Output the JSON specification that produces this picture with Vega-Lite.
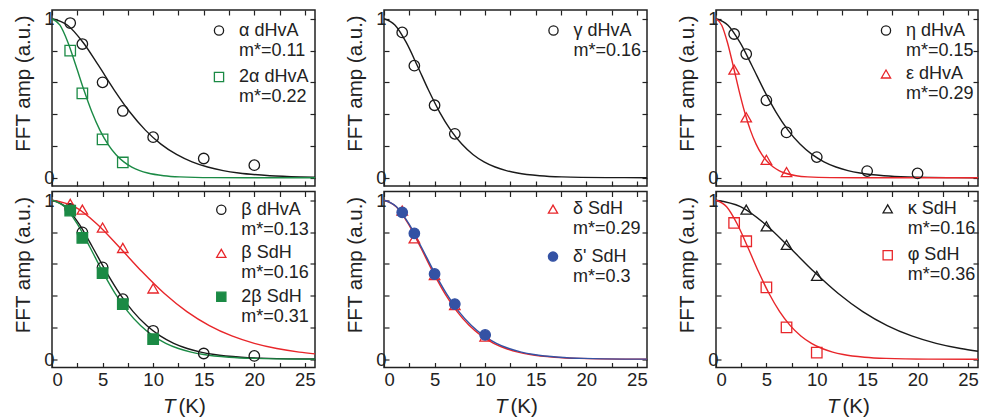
{
  "$schema": "https://vega.github.io/schema/vega-lite/v6.json",
  "padding": {"left": 12, "top": 8, "right": 0, "bottom": 0},
  "background": "white",
  "config": {
    "font": "Liberation Sans",
    "view": {"stroke": "#222", "strokeWidth": 1.5},
    "line": {"interpolate": "monotone", "strokeWidth": 1.4},
    "axis": {"domain": false, "grid": false, "tickSize": -5, "tickWidth": 1.2, "tickColor": "#222", "labelFont": "Liberation Sans", "labelFontSize": 18.5, "labelColor": "#222", "labelPadding": 3, "titleFont": "Liberation Sans", "titleFontSize": 20.5, "titleFontWeight": "normal", "titleColor": "#222"},
    "legend": {"labelFont": "Liberation Sans", "labelFontSize": 18, "labelColor": "#222", "labelLimit": 400, "symbolSize": 85, "symbolStrokeWidth": 1.3, "rowPadding": 5.5, "labelOffset": 11, "padding": 0}
  },
  "datasets": {
    "points": [
      {"p":"A","s":"α dHvA","T":1.8,"amp":0.973},{"p":"A","s":"α dHvA","T":3,"amp":0.841},{"p":"A","s":"α dHvA","T":5,"amp":0.6},{"p":"A","s":"α dHvA","T":7,"amp":0.42},{"p":"A","s":"α dHvA","T":10,"amp":0.255},{"p":"A","s":"α dHvA","T":15,"amp":0.121},{"p":"A","s":"α dHvA","T":20,"amp":0.079},
      {"p":"A","s":"2α dHvA","T":1.8,"amp":0.8},{"p":"A","s":"2α dHvA","T":3,"amp":0.531},{"p":"A","s":"2α dHvA","T":5,"amp":0.241},{"p":"A","s":"2α dHvA","T":7,"amp":0.096},
      {"p":"B","s":"β dHvA","T":1.8,"amp":0.945},{"p":"B","s":"β dHvA","T":3,"amp":0.798},{"p":"B","s":"β dHvA","T":5,"amp":0.578},{"p":"B","s":"β dHvA","T":7,"amp":0.378},{"p":"B","s":"β dHvA","T":10,"amp":0.179},{"p":"B","s":"β dHvA","T":15,"amp":0.036},{"p":"B","s":"β dHvA","T":20,"amp":0.021},
      {"p":"B","s":"β SdH","T":1.8,"amp":0.977},{"p":"B","s":"β SdH","T":3,"amp":0.941},{"p":"B","s":"β SdH","T":5,"amp":0.828},{"p":"B","s":"β SdH","T":7,"amp":0.7},{"p":"B","s":"β SdH","T":10,"amp":0.445},
      {"p":"B","s":"2β SdH","T":1.8,"amp":0.935},{"p":"B","s":"2β SdH","T":3,"amp":0.763},{"p":"B","s":"2β SdH","T":5,"amp":0.542},{"p":"B","s":"2β SdH","T":7,"amp":0.347},{"p":"B","s":"2β SdH","T":10,"amp":0.126},
      {"p":"C","s":"γ dHvA","T":1.8,"amp":0.914},{"p":"C","s":"γ dHvA","T":3,"amp":0.705},{"p":"C","s":"γ dHvA","T":5,"amp":0.456},{"p":"C","s":"γ dHvA","T":7,"amp":0.276},
      {"p":"D","s":"δ SdH","T":1.8,"amp":0.935},{"p":"D","s":"δ SdH","T":3,"amp":0.76},{"p":"D","s":"δ SdH","T":5,"amp":0.53},{"p":"D","s":"δ SdH","T":7,"amp":0.34},{"p":"D","s":"δ SdH","T":10,"amp":0.143},
      {"p":"D","s":"δ' SdH","T":1.8,"amp":0.924},{"p":"D","s":"δ' SdH","T":3,"amp":0.792},{"p":"D","s":"δ' SdH","T":5,"amp":0.536},{"p":"D","s":"δ' SdH","T":7,"amp":0.347},{"p":"D","s":"δ' SdH","T":10,"amp":0.153},
      {"p":"E","s":"η dHvA","T":1.8,"amp":0.904},{"p":"E","s":"η dHvA","T":3,"amp":0.778},{"p":"E","s":"η dHvA","T":5,"amp":0.487},{"p":"E","s":"η dHvA","T":7,"amp":0.285},{"p":"E","s":"η dHvA","T":10,"amp":0.13},{"p":"E","s":"η dHvA","T":15,"amp":0.042},{"p":"E","s":"η dHvA","T":20,"amp":0.027},
      {"p":"E","s":"ε dHvA","T":1.8,"amp":0.68},{"p":"E","s":"ε dHvA","T":3,"amp":0.38},{"p":"E","s":"ε dHvA","T":5,"amp":0.113},{"p":"E","s":"ε dHvA","T":7,"amp":0.036},
      {"p":"F","s":"κ SdH","T":3,"amp":0.941},{"p":"F","s":"κ SdH","T":5,"amp":0.836},{"p":"F","s":"κ SdH","T":7,"amp":0.72},{"p":"F","s":"κ SdH","T":10,"amp":0.525},
      {"p":"F","s":"φ SdH","T":1.8,"amp":0.857},{"p":"F","s":"φ SdH","T":3,"amp":0.742},{"p":"F","s":"φ SdH","T":5,"amp":0.452},{"p":"F","s":"φ SdH","T":7,"amp":0.2},{"p":"F","s":"φ SdH","T":10,"amp":0.042}
    ],
    "curves": [
      {"p":"A","s":"α dHvA","T":0,"amp":1},{"p":"A","s":"α dHvA","T":1.538,"amp":0.9595},{"p":"A","s":"α dHvA","T":3.077,"amp":0.8509},{"p":"A","s":"α dHvA","T":4.615,"amp":0.7045},{"p":"A","s":"α dHvA","T":6.154,"amp":0.5514},{"p":"A","s":"α dHvA","T":7.692,"amp":0.4132},{"p":"A","s":"α dHvA","T":9.231,"amp":0.2995},{"p":"A","s":"α dHvA","T":10.769,"amp":0.2116},{"p":"A","s":"α dHvA","T":12.308,"amp":0.1466},{"p":"A","s":"α dHvA","T":13.846,"amp":0.1},{"p":"A","s":"α dHvA","T":15.385,"amp":0.0674},{"p":"A","s":"α dHvA","T":16.923,"amp":0.045},{"p":"A","s":"α dHvA","T":18.462,"amp":0.0297},{"p":"A","s":"α dHvA","T":21.538,"amp":0.0128},{"p":"A","s":"α dHvA","T":24.615,"amp":0.0054},{"p":"A","s":"α dHvA","T":26,"amp":0.0036},
      {"p":"A","s":"2α dHvA","T":0,"amp":1},{"p":"A","s":"2α dHvA","T":0.789,"amp":0.9595},{"p":"A","s":"2α dHvA","T":1.577,"amp":0.8509},{"p":"A","s":"2α dHvA","T":2.366,"amp":0.7045},{"p":"A","s":"2α dHvA","T":3.155,"amp":0.5514},{"p":"A","s":"2α dHvA","T":3.943,"amp":0.4132},{"p":"A","s":"2α dHvA","T":4.732,"amp":0.2995},{"p":"A","s":"2α dHvA","T":5.521,"amp":0.2116},{"p":"A","s":"2α dHvA","T":6.309,"amp":0.1466},{"p":"A","s":"2α dHvA","T":7.098,"amp":0.1},{"p":"A","s":"2α dHvA","T":7.886,"amp":0.0674},{"p":"A","s":"2α dHvA","T":8.675,"amp":0.045},{"p":"A","s":"2α dHvA","T":9.464,"amp":0.0297},{"p":"A","s":"2α dHvA","T":11.041,"amp":0.0128},{"p":"A","s":"2α dHvA","T":12.618,"amp":0.0054},{"p":"A","s":"2α dHvA","T":15.773,"amp":0.0009},{"p":"A","s":"2α dHvA","T":22.082,"amp":0},{"p":"A","s":"2α dHvA","T":26,"amp":0},
      {"p":"B","s":"β dHvA","T":0,"amp":1},{"p":"B","s":"β dHvA","T":1.337,"amp":0.9595},{"p":"B","s":"β dHvA","T":2.674,"amp":0.8509},{"p":"B","s":"β dHvA","T":4.011,"amp":0.7045},{"p":"B","s":"β dHvA","T":5.348,"amp":0.5514},{"p":"B","s":"β dHvA","T":6.684,"amp":0.4132},{"p":"B","s":"β dHvA","T":8.021,"amp":0.2995},{"p":"B","s":"β dHvA","T":9.358,"amp":0.2116},{"p":"B","s":"β dHvA","T":10.695,"amp":0.1466},{"p":"B","s":"β dHvA","T":12.032,"amp":0.1},{"p":"B","s":"β dHvA","T":13.369,"amp":0.0674},{"p":"B","s":"β dHvA","T":14.706,"amp":0.045},{"p":"B","s":"β dHvA","T":16.043,"amp":0.0297},{"p":"B","s":"β dHvA","T":18.717,"amp":0.0128},{"p":"B","s":"β dHvA","T":21.39,"amp":0.0054},{"p":"B","s":"β dHvA","T":26,"amp":0.0012},
      {"p":"B","s":"β SdH","T":0,"amp":1},{"p":"B","s":"β SdH","T":2.222,"amp":0.9595},{"p":"B","s":"β SdH","T":4.444,"amp":0.8509},{"p":"B","s":"β SdH","T":6.667,"amp":0.7045},{"p":"B","s":"β SdH","T":8.889,"amp":0.5514},{"p":"B","s":"β SdH","T":11.111,"amp":0.4132},{"p":"B","s":"β SdH","T":13.333,"amp":0.2995},{"p":"B","s":"β SdH","T":15.556,"amp":0.2116},{"p":"B","s":"β SdH","T":17.778,"amp":0.1466},{"p":"B","s":"β SdH","T":20,"amp":0.1},{"p":"B","s":"β SdH","T":22.222,"amp":0.0674},{"p":"B","s":"β SdH","T":24.444,"amp":0.045},{"p":"B","s":"β SdH","T":26,"amp":0.0337},
      {"p":"B","s":"2β SdH","T":0,"amp":1},{"p":"B","s":"2β SdH","T":1.25,"amp":0.9595},{"p":"B","s":"2β SdH","T":2.5,"amp":0.8509},{"p":"B","s":"2β SdH","T":3.75,"amp":0.7045},{"p":"B","s":"2β SdH","T":5,"amp":0.5514},{"p":"B","s":"2β SdH","T":6.25,"amp":0.4132},{"p":"B","s":"2β SdH","T":7.5,"amp":0.2995},{"p":"B","s":"2β SdH","T":8.75,"amp":0.2116},{"p":"B","s":"2β SdH","T":10,"amp":0.1466},{"p":"B","s":"2β SdH","T":11.25,"amp":0.1},{"p":"B","s":"2β SdH","T":12.5,"amp":0.0674},{"p":"B","s":"2β SdH","T":13.75,"amp":0.045},{"p":"B","s":"2β SdH","T":15,"amp":0.0297},{"p":"B","s":"2β SdH","T":17.5,"amp":0.0128},{"p":"B","s":"2β SdH","T":20,"amp":0.0054},{"p":"B","s":"2β SdH","T":25,"amp":0.0009},{"p":"B","s":"2β SdH","T":26,"amp":0.0006},
      {"p":"C","s":"γ dHvA","T":0,"amp":1},{"p":"C","s":"γ dHvA","T":1.099,"amp":0.9595},{"p":"C","s":"γ dHvA","T":2.198,"amp":0.8509},{"p":"C","s":"γ dHvA","T":3.297,"amp":0.7045},{"p":"C","s":"γ dHvA","T":4.396,"amp":0.5514},{"p":"C","s":"γ dHvA","T":5.495,"amp":0.4132},{"p":"C","s":"γ dHvA","T":6.593,"amp":0.2995},{"p":"C","s":"γ dHvA","T":7.692,"amp":0.2116},{"p":"C","s":"γ dHvA","T":8.791,"amp":0.1466},{"p":"C","s":"γ dHvA","T":9.89,"amp":0.1},{"p":"C","s":"γ dHvA","T":10.989,"amp":0.0674},{"p":"C","s":"γ dHvA","T":12.088,"amp":0.045},{"p":"C","s":"γ dHvA","T":13.187,"amp":0.0297},{"p":"C","s":"γ dHvA","T":15.385,"amp":0.0128},{"p":"C","s":"γ dHvA","T":17.582,"amp":0.0054},{"p":"C","s":"γ dHvA","T":21.978,"amp":0.0009},{"p":"C","s":"γ dHvA","T":26,"amp":0.0001},
      {"p":"D","s":"δ SdH","T":0,"amp":1},{"p":"D","s":"δ SdH","T":1.205,"amp":0.9595},{"p":"D","s":"δ SdH","T":2.41,"amp":0.8509},{"p":"D","s":"δ SdH","T":3.614,"amp":0.7045},{"p":"D","s":"δ SdH","T":4.819,"amp":0.5514},{"p":"D","s":"δ SdH","T":6.024,"amp":0.4132},{"p":"D","s":"δ SdH","T":7.229,"amp":0.2995},{"p":"D","s":"δ SdH","T":8.434,"amp":0.2116},{"p":"D","s":"δ SdH","T":9.639,"amp":0.1466},{"p":"D","s":"δ SdH","T":10.843,"amp":0.1},{"p":"D","s":"δ SdH","T":12.048,"amp":0.0674},{"p":"D","s":"δ SdH","T":13.253,"amp":0.045},{"p":"D","s":"δ SdH","T":14.458,"amp":0.0297},{"p":"D","s":"δ SdH","T":16.867,"amp":0.0128},{"p":"D","s":"δ SdH","T":19.277,"amp":0.0054},{"p":"D","s":"δ SdH","T":24.096,"amp":0.0009},{"p":"D","s":"δ SdH","T":26,"amp":0.0004},
      {"p":"D","s":"δ' SdH","T":0,"amp":1},{"p":"D","s":"δ' SdH","T":1.235,"amp":0.9595},{"p":"D","s":"δ' SdH","T":2.469,"amp":0.8509},{"p":"D","s":"δ' SdH","T":3.704,"amp":0.7045},{"p":"D","s":"δ' SdH","T":4.938,"amp":0.5514},{"p":"D","s":"δ' SdH","T":6.173,"amp":0.4132},{"p":"D","s":"δ' SdH","T":7.407,"amp":0.2995},{"p":"D","s":"δ' SdH","T":8.642,"amp":0.2116},{"p":"D","s":"δ' SdH","T":9.877,"amp":0.1466},{"p":"D","s":"δ' SdH","T":11.111,"amp":0.1},{"p":"D","s":"δ' SdH","T":12.346,"amp":0.0674},{"p":"D","s":"δ' SdH","T":13.58,"amp":0.045},{"p":"D","s":"δ' SdH","T":14.815,"amp":0.0297},{"p":"D","s":"δ' SdH","T":17.284,"amp":0.0128},{"p":"D","s":"δ' SdH","T":19.753,"amp":0.0054},{"p":"D","s":"δ' SdH","T":24.691,"amp":0.0009},{"p":"D","s":"δ' SdH","T":26,"amp":0.0005},
      {"p":"E","s":"η dHvA","T":0,"amp":1},{"p":"E","s":"η dHvA","T":1.19,"amp":0.9595},{"p":"E","s":"η dHvA","T":2.381,"amp":0.8509},{"p":"E","s":"η dHvA","T":3.571,"amp":0.7045},{"p":"E","s":"η dHvA","T":4.762,"amp":0.5514},{"p":"E","s":"η dHvA","T":5.952,"amp":0.4132},{"p":"E","s":"η dHvA","T":7.143,"amp":0.2995},{"p":"E","s":"η dHvA","T":8.333,"amp":0.2116},{"p":"E","s":"η dHvA","T":9.524,"amp":0.1466},{"p":"E","s":"η dHvA","T":10.714,"amp":0.1},{"p":"E","s":"η dHvA","T":11.905,"amp":0.0674},{"p":"E","s":"η dHvA","T":13.095,"amp":0.045},{"p":"E","s":"η dHvA","T":14.286,"amp":0.0297},{"p":"E","s":"η dHvA","T":16.667,"amp":0.0128},{"p":"E","s":"η dHvA","T":19.048,"amp":0.0054},{"p":"E","s":"η dHvA","T":23.81,"amp":0.0009},{"p":"E","s":"η dHvA","T":26,"amp":0.0003},
      {"p":"E","s":"ε dHvA","T":0,"amp":1},{"p":"E","s":"ε dHvA","T":0.568,"amp":0.9595},{"p":"E","s":"ε dHvA","T":1.136,"amp":0.8509},{"p":"E","s":"ε dHvA","T":1.705,"amp":0.7045},{"p":"E","s":"ε dHvA","T":2.273,"amp":0.5514},{"p":"E","s":"ε dHvA","T":2.841,"amp":0.4132},{"p":"E","s":"ε dHvA","T":3.409,"amp":0.2995},{"p":"E","s":"ε dHvA","T":3.977,"amp":0.2116},{"p":"E","s":"ε dHvA","T":4.545,"amp":0.1466},{"p":"E","s":"ε dHvA","T":5.114,"amp":0.1},{"p":"E","s":"ε dHvA","T":5.682,"amp":0.0674},{"p":"E","s":"ε dHvA","T":6.25,"amp":0.045},{"p":"E","s":"ε dHvA","T":6.818,"amp":0.0297},{"p":"E","s":"ε dHvA","T":7.955,"amp":0.0128},{"p":"E","s":"ε dHvA","T":9.091,"amp":0.0054},{"p":"E","s":"ε dHvA","T":11.364,"amp":0.0009},{"p":"E","s":"ε dHvA","T":15.909,"amp":0},{"p":"E","s":"ε dHvA","T":26,"amp":0},
      {"p":"F","s":"κ SdH","T":0,"amp":1},{"p":"F","s":"κ SdH","T":2.427,"amp":0.9595},{"p":"F","s":"κ SdH","T":4.854,"amp":0.8509},{"p":"F","s":"κ SdH","T":7.282,"amp":0.7045},{"p":"F","s":"κ SdH","T":9.709,"amp":0.5514},{"p":"F","s":"κ SdH","T":12.136,"amp":0.4132},{"p":"F","s":"κ SdH","T":14.563,"amp":0.2995},{"p":"F","s":"κ SdH","T":16.99,"amp":0.2116},{"p":"F","s":"κ SdH","T":19.417,"amp":0.1466},{"p":"F","s":"κ SdH","T":21.845,"amp":0.1},{"p":"F","s":"κ SdH","T":24.272,"amp":0.0674},{"p":"F","s":"κ SdH","T":26,"amp":0.0506},
      {"p":"F","s":"φ SdH","T":0,"amp":1},{"p":"F","s":"φ SdH","T":1.053,"amp":0.9595},{"p":"F","s":"φ SdH","T":2.105,"amp":0.8509},{"p":"F","s":"φ SdH","T":3.158,"amp":0.7045},{"p":"F","s":"φ SdH","T":4.211,"amp":0.5514},{"p":"F","s":"φ SdH","T":5.263,"amp":0.4132},{"p":"F","s":"φ SdH","T":6.316,"amp":0.2995},{"p":"F","s":"φ SdH","T":7.368,"amp":0.2116},{"p":"F","s":"φ SdH","T":8.421,"amp":0.1466},{"p":"F","s":"φ SdH","T":9.474,"amp":0.1},{"p":"F","s":"φ SdH","T":10.526,"amp":0.0674},{"p":"F","s":"φ SdH","T":11.579,"amp":0.045},{"p":"F","s":"φ SdH","T":12.632,"amp":0.0297},{"p":"F","s":"φ SdH","T":14.737,"amp":0.0128},{"p":"F","s":"φ SdH","T":16.842,"amp":0.0054},{"p":"F","s":"φ SdH","T":21.053,"amp":0.0009},{"p":"F","s":"φ SdH","T":26,"amp":0.0001}
    ]
  },
  "columns": 3,
  "bounds": "flush",
  "spacing": {"row": 5.5, "column": 69},
  "resolve": {"scale": {"stroke": "independent", "fill": "independent", "shape": "independent"}},
  "concat": [
    {
      "width": 263, "height": 176,
      "layer": [
        {"data": {"name": "curves"}, "transform": [{"filter": "datum.p == 'A' && datum.s == 'α dHvA'"}],
         "mark": {"type": "line", "color": "#1a1a1a"},
         "encoding": {
           "x": {"field": "T", "type": "quantitative", "scale": {"domain": [0, 26], "nice": false}, "axis": {"orient": "bottom", "values": [0,2.5,5,7.5,10,12.5,15,17.5,20,22.5,25], "labels": false, "title": null}},
           "y": {"field": "amp", "type": "quantitative", "scale": {"domain": [-0.052, 1.055], "nice": false, "zero": false}, "axis": {"orient": "left", "values": [0,0.2,0.4,0.6,0.8,1], "labelExpr": "datum.value === 0 ? '0' : datum.value === 1 ? '1' : ''", "title": "FFT amp (a.u.)", "titleX": -22.7, "titleY": 73, "titleAngle": -90, "titleAlign": "center", "titleBaseline": "alphabetic"}}
         }},
        {"data": {"name": "curves"}, "transform": [{"filter": "datum.p == 'A' && datum.s == '2α dHvA'"}],
         "mark": {"type": "line", "color": "#1b8a45"},
         "encoding": {
           "x": {"field": "T", "type": "quantitative", "axis": null},
           "y": {"field": "amp", "type": "quantitative", "axis": null}
         }},
        {"data": {"name": "points"}, "transform": [{"filter": "datum.p == 'A'"}],
         "mark": {"type": "point", "size": 110, "strokeWidth": 1.3, "opacity": 1},
         "encoding": {
           "x": {"field": "T", "type": "quantitative", "axis": {"orient": "top", "values": [0,2.5,5,7.5,10,12.5,15,17.5,20,22.5,25], "labels": false, "title": null}},
           "y": {"field": "amp", "type": "quantitative", "axis": {"orient": "right", "values": [0,0.2,0.4,0.6,0.8,1], "labels": false, "title": null}},
           "stroke": {"field": "s", "type": "nominal", "title": null, "scale": {"domain": ["α dHvA", "2α dHvA"], "range": ["#1a1a1a", "#1b8a45"]}, "legend": {"orient": "none", "legendX": 158, "legendY": 11.5, "rowPadding": 8.5, "labelExpr": "[datum.label, datum.label == 'α dHvA' ? 'm*=0.11' : 'm*=0.22']"}},
           "fill": {"field": "s", "type": "nominal", "title": null, "scale": {"domain": ["α dHvA", "2α dHvA"], "range": ["transparent", "transparent"]}, "legend": {"orient": "none", "legendX": 158, "legendY": 11.5, "rowPadding": 8.5, "labelExpr": "[datum.label, datum.label == 'α dHvA' ? 'm*=0.11' : 'm*=0.22']"}},
           "shape": {"field": "s", "type": "nominal", "title": null, "scale": {"domain": ["α dHvA", "2α dHvA"], "range": ["circle", "square"]}, "legend": {"orient": "none", "legendX": 158, "legendY": 11.5, "rowPadding": 8.5, "labelExpr": "[datum.label, datum.label == 'α dHvA' ? 'm*=0.11' : 'm*=0.22']"}}
         }}
      ],
      "resolve": {"axis": {"x": "independent", "y": "independent"}}
    },
    {
      "width": 263, "height": 176,
      "layer": [
        {"data": {"name": "curves"}, "transform": [{"filter": "datum.p == 'C'"}],
         "mark": {"type": "line", "color": "#1a1a1a"},
         "encoding": {
           "x": {"field": "T", "type": "quantitative", "scale": {"domain": [0, 26], "nice": false}, "axis": {"orient": "bottom", "values": [0,2.5,5,7.5,10,12.5,15,17.5,20,22.5,25], "labels": false, "title": null}},
           "y": {"field": "amp", "type": "quantitative", "scale": {"domain": [-0.052, 1.055], "nice": false, "zero": false}, "axis": {"orient": "left", "values": [0,0.2,0.4,0.6,0.8,1], "labelExpr": "datum.value === 0 ? '0' : datum.value === 1 ? '1' : ''", "title": "FFT amp (a.u.)", "titleX": -22.7, "titleY": 73, "titleAngle": -90, "titleAlign": "center", "titleBaseline": "alphabetic"}}
         }},
        {"data": {"name": "points"}, "transform": [{"filter": "datum.p == 'C'"}],
         "mark": {"type": "point", "size": 110, "strokeWidth": 1.3, "opacity": 1},
         "encoding": {
           "x": {"field": "T", "type": "quantitative", "axis": {"orient": "top", "values": [0,2.5,5,7.5,10,12.5,15,17.5,20,22.5,25], "labels": false, "title": null}},
           "y": {"field": "amp", "type": "quantitative", "axis": {"orient": "right", "values": [0,0.2,0.4,0.6,0.8,1], "labels": false, "title": null}},
           "stroke": {"field": "s", "type": "nominal", "title": null, "scale": {"domain": ["γ dHvA"], "range": ["#1a1a1a"]}, "legend": {"orient": "none", "legendX": 160.5, "legendY": 11.5, "labelExpr": "[datum.label, 'm*=0.16']"}},
           "fill": {"field": "s", "type": "nominal", "title": null, "scale": {"domain": ["γ dHvA"], "range": ["transparent"]}, "legend": {"orient": "none", "legendX": 160.5, "legendY": 11.5, "labelExpr": "[datum.label, 'm*=0.16']"}},
           "shape": {"field": "s", "type": "nominal", "title": null, "scale": {"domain": ["γ dHvA"], "range": ["circle"]}, "legend": {"orient": "none", "legendX": 160.5, "legendY": 11.5, "labelExpr": "[datum.label, 'm*=0.16']"}}
         }}
      ],
      "resolve": {"axis": {"x": "independent", "y": "independent"}}
    },
    {
      "width": 262, "height": 176,
      "layer": [
        {"data": {"name": "curves"}, "transform": [{"filter": "datum.p == 'E' && datum.s == 'η dHvA'"}],
         "mark": {"type": "line", "color": "#1a1a1a"},
         "encoding": {
           "x": {"field": "T", "type": "quantitative", "scale": {"domain": [0, 26], "nice": false}, "axis": {"orient": "bottom", "values": [0,2.5,5,7.5,10,12.5,15,17.5,20,22.5,25], "labels": false, "title": null}},
           "y": {"field": "amp", "type": "quantitative", "scale": {"domain": [-0.052, 1.055], "nice": false, "zero": false}, "axis": {"orient": "left", "values": [0,0.2,0.4,0.6,0.8,1], "labelExpr": "datum.value === 0 ? '0' : datum.value === 1 ? '1' : ''", "title": "FFT amp (a.u.)", "titleX": -22.7, "titleY": 73, "titleAngle": -90, "titleAlign": "center", "titleBaseline": "alphabetic"}}
         }},
        {"data": {"name": "curves"}, "transform": [{"filter": "datum.p == 'E' && datum.s == 'ε dHvA'"}],
         "mark": {"type": "line", "color": "#e8262a"},
         "encoding": {
           "x": {"field": "T", "type": "quantitative", "axis": null},
           "y": {"field": "amp", "type": "quantitative", "axis": null}
         }},
        {"data": {"name": "points"}, "transform": [{"filter": "datum.p == 'E'"}],
         "mark": {"type": "point", "size": 110, "strokeWidth": 1.3, "opacity": 1},
         "encoding": {
           "x": {"field": "T", "type": "quantitative", "axis": {"orient": "top", "values": [0,2.5,5,7.5,10,12.5,15,17.5,20,22.5,25], "labels": false, "title": null}},
           "y": {"field": "amp", "type": "quantitative", "axis": {"orient": "right", "values": [0,0.2,0.4,0.6,0.8,1], "labels": false, "title": null}},
           "stroke": {"field": "s", "type": "nominal", "title": null, "scale": {"domain": ["η dHvA", "ε dHvA"], "range": ["#1a1a1a", "#e8262a"]}, "legend": {"orient": "none", "legendX": 161, "legendY": 11.5, "rowPadding": 5.5, "labelExpr": "[datum.label, datum.label == 'η dHvA' ? 'm*=0.15' : 'm*=0.29']"}},
           "fill": {"field": "s", "type": "nominal", "title": null, "scale": {"domain": ["η dHvA", "ε dHvA"], "range": ["transparent", "transparent"]}, "legend": {"orient": "none", "legendX": 161, "legendY": 11.5, "rowPadding": 5.5, "labelExpr": "[datum.label, datum.label == 'η dHvA' ? 'm*=0.15' : 'm*=0.29']"}},
           "shape": {"field": "s", "type": "nominal", "title": null, "scale": {"domain": ["η dHvA", "ε dHvA"], "range": ["circle", "triangle-up"]}, "legend": {"orient": "none", "legendX": 161, "legendY": 11.5, "rowPadding": 5.5, "labelExpr": "[datum.label, datum.label == 'η dHvA' ? 'm*=0.15' : 'm*=0.29']"}}
         }}
      ],
      "resolve": {"axis": {"x": "independent", "y": "independent"}}
    },
    {
      "width": 263, "height": 176,
      "layer": [
        {"data": {"name": "curves"}, "transform": [{"filter": "datum.p == 'B' && datum.s == 'β dHvA'"}],
         "mark": {"type": "line", "color": "#1a1a1a"},
         "encoding": {
           "x": {"field": "T", "type": "quantitative", "scale": {"domain": [0, 26], "nice": false}, "axis": {"orient": "bottom", "values": [0,2.5,5,7.5,10,12.5,15,17.5,20,22.5,25], "labelExpr": "datum.value % 5 === 0 ? datum.label : ''", "labelPadding": 8, "title": "(K)", "titleX": 126, "titleY": 44.5, "titleAlign": "left", "titleBaseline": "alphabetic"}},
           "y": {"field": "amp", "type": "quantitative", "scale": {"domain": [-0.052, 1.055], "nice": false, "zero": false}, "axis": {"orient": "left", "values": [0,0.2,0.4,0.6,0.8,1], "labelExpr": "datum.value === 0 ? '0' : datum.value === 1 ? '1' : ''", "title": "FFT amp (a.u.)", "titleX": -22.7, "titleY": 73, "titleAngle": -90, "titleAlign": "center", "titleBaseline": "alphabetic"}}
         }},
        {"data": {"name": "curves"}, "transform": [{"filter": "datum.p == 'B' && datum.s == 'β SdH'"}],
         "mark": {"type": "line", "color": "#e8262a"},
         "encoding": {
           "x": {"field": "T", "type": "quantitative", "axis": {"orient": "bottom", "ticks": false, "labels": false, "title": "T", "titleFontStyle": "italic", "titleX": 123, "titleY": 44.5, "titleAlign": "right", "titleBaseline": "alphabetic"}},
           "y": {"field": "amp", "type": "quantitative", "axis": null}
         }},
        {"data": {"name": "curves"}, "transform": [{"filter": "datum.p == 'B' && datum.s == '2β SdH'"}],
         "mark": {"type": "line", "color": "#1b8a45"},
         "encoding": {
           "x": {"field": "T", "type": "quantitative", "axis": null},
           "y": {"field": "amp", "type": "quantitative", "axis": null}
         }},
        {"data": {"name": "points"}, "transform": [{"filter": "datum.p == 'B'"}],
         "mark": {"type": "point", "size": 110, "strokeWidth": 1.3, "opacity": 1},
         "encoding": {
           "x": {"field": "T", "type": "quantitative", "axis": {"orient": "top", "values": [0,2.5,5,7.5,10,12.5,15,17.5,20,22.5,25], "labels": false, "title": null}},
           "y": {"field": "amp", "type": "quantitative", "axis": {"orient": "right", "values": [0,0.2,0.4,0.6,0.8,1], "labels": false, "title": null}},
           "stroke": {"field": "s", "type": "nominal", "title": null, "scale": {"domain": ["β dHvA", "β SdH", "2β SdH"], "range": ["#1a1a1a", "#e8262a", "#1b8a45"]}, "legend": {"orient": "none", "legendX": 160.3, "legendY": 9.3, "rowPadding": 5.5, "labelExpr": "[datum.label, datum.label == 'β dHvA' ? 'm*=0.13' : datum.label == 'β SdH' ? 'm*=0.16' : 'm*=0.31']"}},
           "fill": {"field": "s", "type": "nominal", "title": null, "scale": {"domain": ["β dHvA", "β SdH", "2β SdH"], "range": ["transparent", "transparent", "#1b8a45"]}, "legend": {"orient": "none", "legendX": 160.3, "legendY": 9.3, "rowPadding": 5.5, "labelExpr": "[datum.label, datum.label == 'β dHvA' ? 'm*=0.13' : datum.label == 'β SdH' ? 'm*=0.16' : 'm*=0.31']"}},
           "shape": {"field": "s", "type": "nominal", "title": null, "scale": {"domain": ["β dHvA", "β SdH", "2β SdH"], "range": ["circle", "triangle-up", "square"]}, "legend": {"orient": "none", "legendX": 160.3, "legendY": 9.3, "rowPadding": 5.5, "labelExpr": "[datum.label, datum.label == 'β dHvA' ? 'm*=0.13' : datum.label == 'β SdH' ? 'm*=0.16' : 'm*=0.31']"}}
         }}
      ],
      "resolve": {"axis": {"x": "independent", "y": "independent"}}
    },
    {
      "width": 263, "height": 176,
      "layer": [
        {"data": {"name": "curves"}, "transform": [{"filter": "datum.p == 'D' && datum.s == 'δ SdH'"}],
         "mark": {"type": "line", "color": "#e8262a"},
         "encoding": {
           "x": {"field": "T", "type": "quantitative", "scale": {"domain": [0, 26], "nice": false}, "axis": {"orient": "bottom", "values": [0,2.5,5,7.5,10,12.5,15,17.5,20,22.5,25], "labelExpr": "datum.value % 5 === 0 ? datum.label : ''", "labelPadding": 8, "title": "(K)", "titleX": 126, "titleY": 44.5, "titleAlign": "left", "titleBaseline": "alphabetic"}},
           "y": {"field": "amp", "type": "quantitative", "scale": {"domain": [-0.052, 1.055], "nice": false, "zero": false}, "axis": {"orient": "left", "values": [0,0.2,0.4,0.6,0.8,1], "labelExpr": "datum.value === 0 ? '0' : datum.value === 1 ? '1' : ''", "title": "FFT amp (a.u.)", "titleX": -22.7, "titleY": 73, "titleAngle": -90, "titleAlign": "center", "titleBaseline": "alphabetic"}}
         }},
        {"data": {"name": "curves"}, "transform": [{"filter": "datum.p == 'D' && datum.s == \"δ' SdH\""}],
         "mark": {"type": "line", "color": "#3452a4"},
         "encoding": {
           "x": {"field": "T", "type": "quantitative", "axis": {"orient": "bottom", "ticks": false, "labels": false, "title": "T", "titleFontStyle": "italic", "titleX": 123, "titleY": 44.5, "titleAlign": "right", "titleBaseline": "alphabetic"}},
           "y": {"field": "amp", "type": "quantitative", "axis": null}
         }},
        {"data": {"name": "points"}, "transform": [{"filter": "datum.p == 'D'"}],
         "mark": {"type": "point", "size": 110, "strokeWidth": 1.3, "opacity": 1},
         "encoding": {
           "x": {"field": "T", "type": "quantitative", "axis": {"orient": "top", "values": [0,2.5,5,7.5,10,12.5,15,17.5,20,22.5,25], "labels": false, "title": null}},
           "y": {"field": "amp", "type": "quantitative", "axis": {"orient": "right", "values": [0,0.2,0.4,0.6,0.8,1], "labels": false, "title": null}},
           "stroke": {"field": "s", "type": "nominal", "title": null, "scale": {"domain": ["δ SdH", "δ' SdH"], "range": ["#e8262a", "#3452a4"]}, "legend": {"orient": "none", "legendX": 160, "legendY": 8.6, "rowPadding": 9.5, "labelExpr": "[datum.label, datum.label == 'δ SdH' ? 'm*=0.29' : 'm*=0.3']"}},
           "fill": {"field": "s", "type": "nominal", "title": null, "scale": {"domain": ["δ SdH", "δ' SdH"], "range": ["transparent", "#3452a4"]}, "legend": {"orient": "none", "legendX": 160, "legendY": 8.6, "rowPadding": 9.5, "labelExpr": "[datum.label, datum.label == 'δ SdH' ? 'm*=0.29' : 'm*=0.3']"}},
           "shape": {"field": "s", "type": "nominal", "title": null, "scale": {"domain": ["δ SdH", "δ' SdH"], "range": ["triangle-up", "circle"]}, "legend": {"orient": "none", "legendX": 160, "legendY": 8.6, "rowPadding": 9.5, "labelExpr": "[datum.label, datum.label == 'δ SdH' ? 'm*=0.29' : 'm*=0.3']"}}
         }}
      ],
      "resolve": {"axis": {"x": "independent", "y": "independent"}}
    },
    {
      "width": 262, "height": 176,
      "layer": [
        {"data": {"name": "curves"}, "transform": [{"filter": "datum.p == 'F' && datum.s == 'κ SdH'"}],
         "mark": {"type": "line", "color": "#1a1a1a"},
         "encoding": {
           "x": {"field": "T", "type": "quantitative", "scale": {"domain": [0, 26], "nice": false}, "axis": {"orient": "bottom", "values": [0,2.5,5,7.5,10,12.5,15,17.5,20,22.5,25], "labelExpr": "datum.value % 5 === 0 ? datum.label : ''", "labelPadding": 8, "title": "(K)", "titleX": 126, "titleY": 44.5, "titleAlign": "left", "titleBaseline": "alphabetic"}},
           "y": {"field": "amp", "type": "quantitative", "scale": {"domain": [-0.052, 1.055], "nice": false, "zero": false}, "axis": {"orient": "left", "values": [0,0.2,0.4,0.6,0.8,1], "labelExpr": "datum.value === 0 ? '0' : datum.value === 1 ? '1' : ''", "title": "FFT amp (a.u.)", "titleX": -22.7, "titleY": 73, "titleAngle": -90, "titleAlign": "center", "titleBaseline": "alphabetic"}}
         }},
        {"data": {"name": "curves"}, "transform": [{"filter": "datum.p == 'F' && datum.s == 'φ SdH'"}],
         "mark": {"type": "line", "color": "#e8262a"},
         "encoding": {
           "x": {"field": "T", "type": "quantitative", "axis": {"orient": "bottom", "ticks": false, "labels": false, "title": "T", "titleFontStyle": "italic", "titleX": 123, "titleY": 44.5, "titleAlign": "right", "titleBaseline": "alphabetic"}},
           "y": {"field": "amp", "type": "quantitative", "axis": null}
         }},
        {"data": {"name": "points"}, "transform": [{"filter": "datum.p == 'F'"}],
         "mark": {"type": "point", "size": 110, "strokeWidth": 1.3, "opacity": 1},
         "encoding": {
           "x": {"field": "T", "type": "quantitative", "axis": {"orient": "top", "values": [0,2.5,5,7.5,10,12.5,15,17.5,20,22.5,25], "labels": false, "title": null}},
           "y": {"field": "amp", "type": "quantitative", "axis": {"orient": "right", "values": [0,0.2,0.4,0.6,0.8,1], "labels": false, "title": null}},
           "stroke": {"field": "s", "type": "nominal", "title": null, "scale": {"domain": ["κ SdH", "φ SdH"], "range": ["#1a1a1a", "#e8262a"]}, "legend": {"orient": "none", "legendX": 162.7, "legendY": 8.3, "rowPadding": 8.5, "labelExpr": "[datum.label, datum.label == 'κ SdH' ? 'm*=0.16' : 'm*=0.36']"}},
           "fill": {"field": "s", "type": "nominal", "title": null, "scale": {"domain": ["κ SdH", "φ SdH"], "range": ["transparent", "transparent"]}, "legend": {"orient": "none", "legendX": 162.7, "legendY": 8.3, "rowPadding": 8.5, "labelExpr": "[datum.label, datum.label == 'κ SdH' ? 'm*=0.16' : 'm*=0.36']"}},
           "shape": {"field": "s", "type": "nominal", "title": null, "scale": {"domain": ["κ SdH", "φ SdH"], "range": ["triangle-up", "square"]}, "legend": {"orient": "none", "legendX": 162.7, "legendY": 8.3, "rowPadding": 8.5, "labelExpr": "[datum.label, datum.label == 'κ SdH' ? 'm*=0.16' : 'm*=0.36']"}}
         }}
      ],
      "resolve": {"axis": {"x": "independent", "y": "independent"}}
    }
  ]
}
